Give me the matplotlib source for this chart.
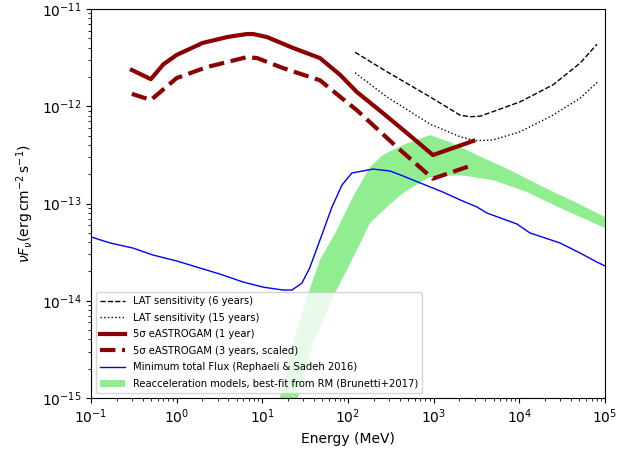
import numpy as np
import matplotlib
matplotlib.use("Agg")
import matplotlib.pyplot as plt

# LAT sensitivity 6 years
lat6_E = [121, 283, 906, 2030, 2650, 3470, 4920, 10200, 24700, 51100, 80600]
lat6_F = [3.59e-12, 2.27e-12, 1.25e-12, 8.1e-13, 7.8e-13, 7.9e-13, 8.8e-13,
          1.11e-12, 1.66e-12, 2.77e-12, 4.34e-12]

# LAT sensitivity 15 years
lat15_E = [121, 283, 906, 2030, 3030, 4920, 10200, 24700, 51100, 82800]
lat15_F = [2.21e-12, 1.25e-12, 6.56e-13, 4.86e-13, 4.43e-13, 4.5e-13,
           5.47e-13, 8.1e-13, 1.21e-12, 1.79e-12]

# e-ASTROGAM 5 sigma, 1 year
ea1_E = [0.3, 0.5, 0.7, 1.0, 2.0, 3.9, 6.6, 7.8, 11.3, 22.8, 47, 81, 127,
         256, 488, 980, 2900]
ea1_F = [2.36e-12, 1.9e-12, 2.7e-12, 3.37e-12, 4.47e-12, 5.15e-12, 5.53e-12,
         5.53e-12, 5.15e-12, 3.98e-12, 3.13e-12, 2.1e-12, 1.4e-12, 8.5e-13,
         5.3e-13, 3.15e-13, 4.4e-13]

# e-ASTROGAM 5 sigma, 3 years scaled
ea3_E = [0.3, 0.5, 1.0, 2.26, 6.6, 8.7, 17.4, 47, 81, 127, 373, 980, 2900]
ea3_F = [1.34e-12, 1.16e-12, 1.95e-12, 2.53e-12, 3.2e-12, 3.13e-12,
         2.47e-12, 1.85e-12, 1.25e-12, 9.1e-13, 3.8e-13, 1.8e-13, 2.5e-13]

# Minimum total flux (Rephaeli & Sadeh 2016)
min_E = [0.1, 0.167, 0.309, 0.53, 1.01, 1.87, 3.2, 5.94, 10.2, 17.4, 22.2,
         29.0, 35.7, 47.1, 65, 85.1, 111, 196, 309, 438, 692, 1285, 2030,
         3205, 4190, 9390, 13300, 29800, 51000, 80500, 100000]
min_F = [4.53e-14, 3.93e-14, 3.48e-14, 2.95e-14, 2.56e-14, 2.17e-14,
         1.88e-14, 1.56e-14, 1.38e-14, 1.29e-14, 1.29e-14, 1.52e-14,
         2.17e-14, 4.22e-14, 9.2e-14, 1.55e-13, 2.06e-13, 2.26e-13,
         2.16e-13, 1.92e-13, 1.63e-13, 1.31e-13, 1.09e-13, 9.2e-14,
         7.98e-14, 6.15e-14, 4.98e-14, 3.93e-14, 3.1e-14, 2.5e-14, 2.28e-14]

# Reacceleration models band (Brunetti+2017)
band_up_E = [14, 16.1, 22.8, 33.2, 47.1, 74.3, 114, 181, 256, 438, 906, 1550,
             3200, 7780, 18900, 47100, 100000]
band_up_F = [6e-16, 1.02e-15, 3.68e-15, 1.09e-14, 2.63e-14, 5.34e-14,
             1.17e-13, 2.37e-13, 3.15e-13, 4.0e-13, 5.06e-13, 4.29e-13,
             3.15e-13, 2.21e-13, 1.48e-13, 1.01e-13, 7.26e-14]
band_lo_E = [22.5, 26.1, 39, 66.8, 111, 181, 285, 438, 692, 906, 2030, 4920,
             12300, 29800, 100000]
band_lo_F = [6.3e-16, 1.02e-15, 3.68e-15, 1.09e-14, 2.63e-14, 6.3e-14,
             9.2e-14, 1.28e-13, 1.63e-13, 1.87e-13, 1.96e-13, 1.74e-13,
             1.31e-13, 9.0e-14, 5.6e-14]

fig = plt.figure(figsize=(6.39, 4.49), dpi=100)
ax = fig.add_axes([91/639, 1-398/449, (605-91)/639, (398-9)/449])

ax.plot(lat6_E, lat6_F, ls='--', color='black', lw=1,
        label='LAT sensitivity (6 years)')
ax.plot(lat15_E, lat15_F, ls=':', color='black', lw=1,
        label='LAT sensitivity (15 years)')
ax.plot(ea1_E, ea1_F, ls='-', color='darkred', lw=3,
        label='5σ eASTROGAM (1 year)')
ax.plot(ea3_E, ea3_F, ls='--', color='darkred', lw=3,
        label='5σ eASTROGAM (3 years, scaled)')
ax.plot(min_E, min_F, ls='-', color='blue', lw=1,
        label='Minimum total Flux (Rephaeli & Sadeh 2016)')
band_x = np.concatenate([band_up_E, band_lo_E[::-1]])
band_y = np.concatenate([band_up_F, band_lo_F[::-1]])
ax.fill(band_x, band_y, color='lightgreen', lw=0, zorder=0,
        label='Reacceleration models, best-fit from RM (Brunetti+2017)')

ax.set_xscale('log')
ax.set_yscale('log')
ax.set_xlim(1e-1, 1e5)
ax.set_ylim(1e-15, 1e-11)
ax.set_xlabel('Energy (MeV)', fontsize=10)
ax.set_ylabel(r'$\nu F_\nu (\mathrm{erg\,cm^{-2}\,s^{-1}})$', fontsize=10)
ax.legend(loc='lower left', fontsize=7.2, handlelength=2.5, labelspacing=0.66)

fig.savefig('out.png', dpi=100)
